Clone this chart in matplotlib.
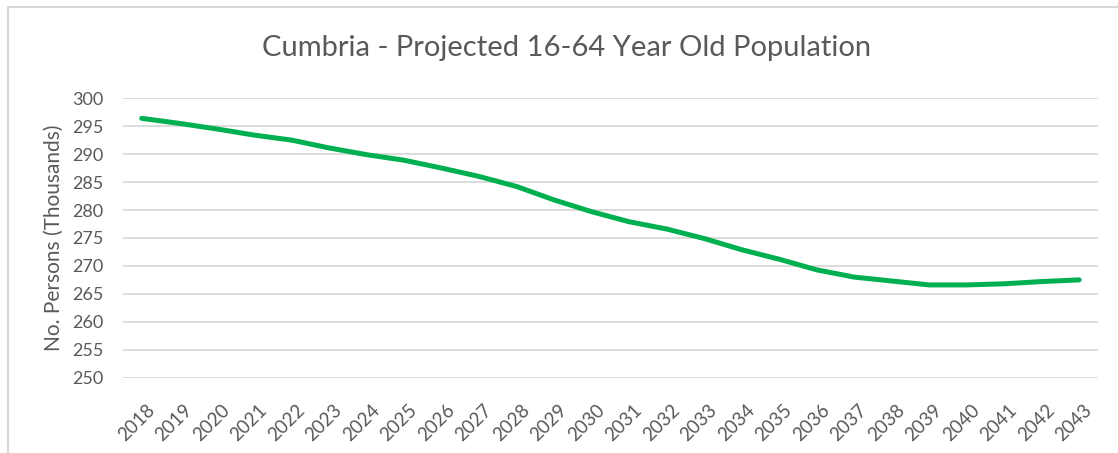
import matplotlib.pyplot as plt
from matplotlib.patches import Rectangle
from matplotlib.transforms import ScaledTranslation

# -------------------- DATA --------------------
years = [str(y) for y in range(2018, 2044)]
population = [296.4, 295.5, 294.5, 293.4, 292.5, 291.1, 289.9, 288.9, 287.5, 286.0,
              284.2, 281.8, 279.7, 277.9, 276.6, 274.9, 272.9, 271.2, 269.3, 268.0,
              267.3, 266.6, 266.6, 266.8, 267.2, 267.5]
y_ticks = list(range(250, 301, 5))

TEXT = '#595959'
GRID = '#d9d9d9'
GREEN = '#00b050'

plt.rcParams['font.family'] = ['Lato', 'DejaVu Sans']

fig = plt.figure(figsize=(11.18, 4.53), dpi=100)
ax = fig.add_axes([0.110, 0.1662, 0.872, 0.617])

# chart-area border (only top/left visible in the crop)
fig.patches.append(Rectangle((8 / 1118, -0.1), 1.2, 1 - 7 / 453 + 0.1,
                             transform=fig.transFigure, fill=False,
                             edgecolor='#d9d9d9', lw=1.5))

x = list(range(len(years)))
ax.plot(x, population, color=GREEN, lw=3.6, solid_capstyle='round', zorder=3)

ax.set_xlim(-0.5, len(years) - 0.5)
ax.set_ylim(250, 300)
ax.set_yticks(y_ticks)
ax.set_xticks(x)
ax.set_xticklabels(years, rotation=45, ha='right', rotation_mode='anchor')
ax.tick_params(axis='y', length=0, colors=TEXT, labelsize=13, pad=14)
ax.tick_params(axis='x', length=0, colors=TEXT, labelsize=13.5, pad=17)
shift = ScaledTranslation(4 / 100, 0, fig.dpi_scale_trans)
for lab in ax.get_xticklabels():
    lab.set_transform(lab.get_transform() + shift)
ax.grid(axis='y', color=GRID, lw=1.3)
ax.set_axisbelow(True)
for s in ax.spines.values():
    s.set_visible(False)

ax.set_ylabel('No. Persons (Thousands)', color=TEXT, fontsize=15, labelpad=6)
fig.text(0.507, 0.894, 'Cumbria - Projected 16-64 Year Old Population',
         ha='center', va='center', color=TEXT, fontsize=21)

fig.savefig('out.png', dpi=100)
